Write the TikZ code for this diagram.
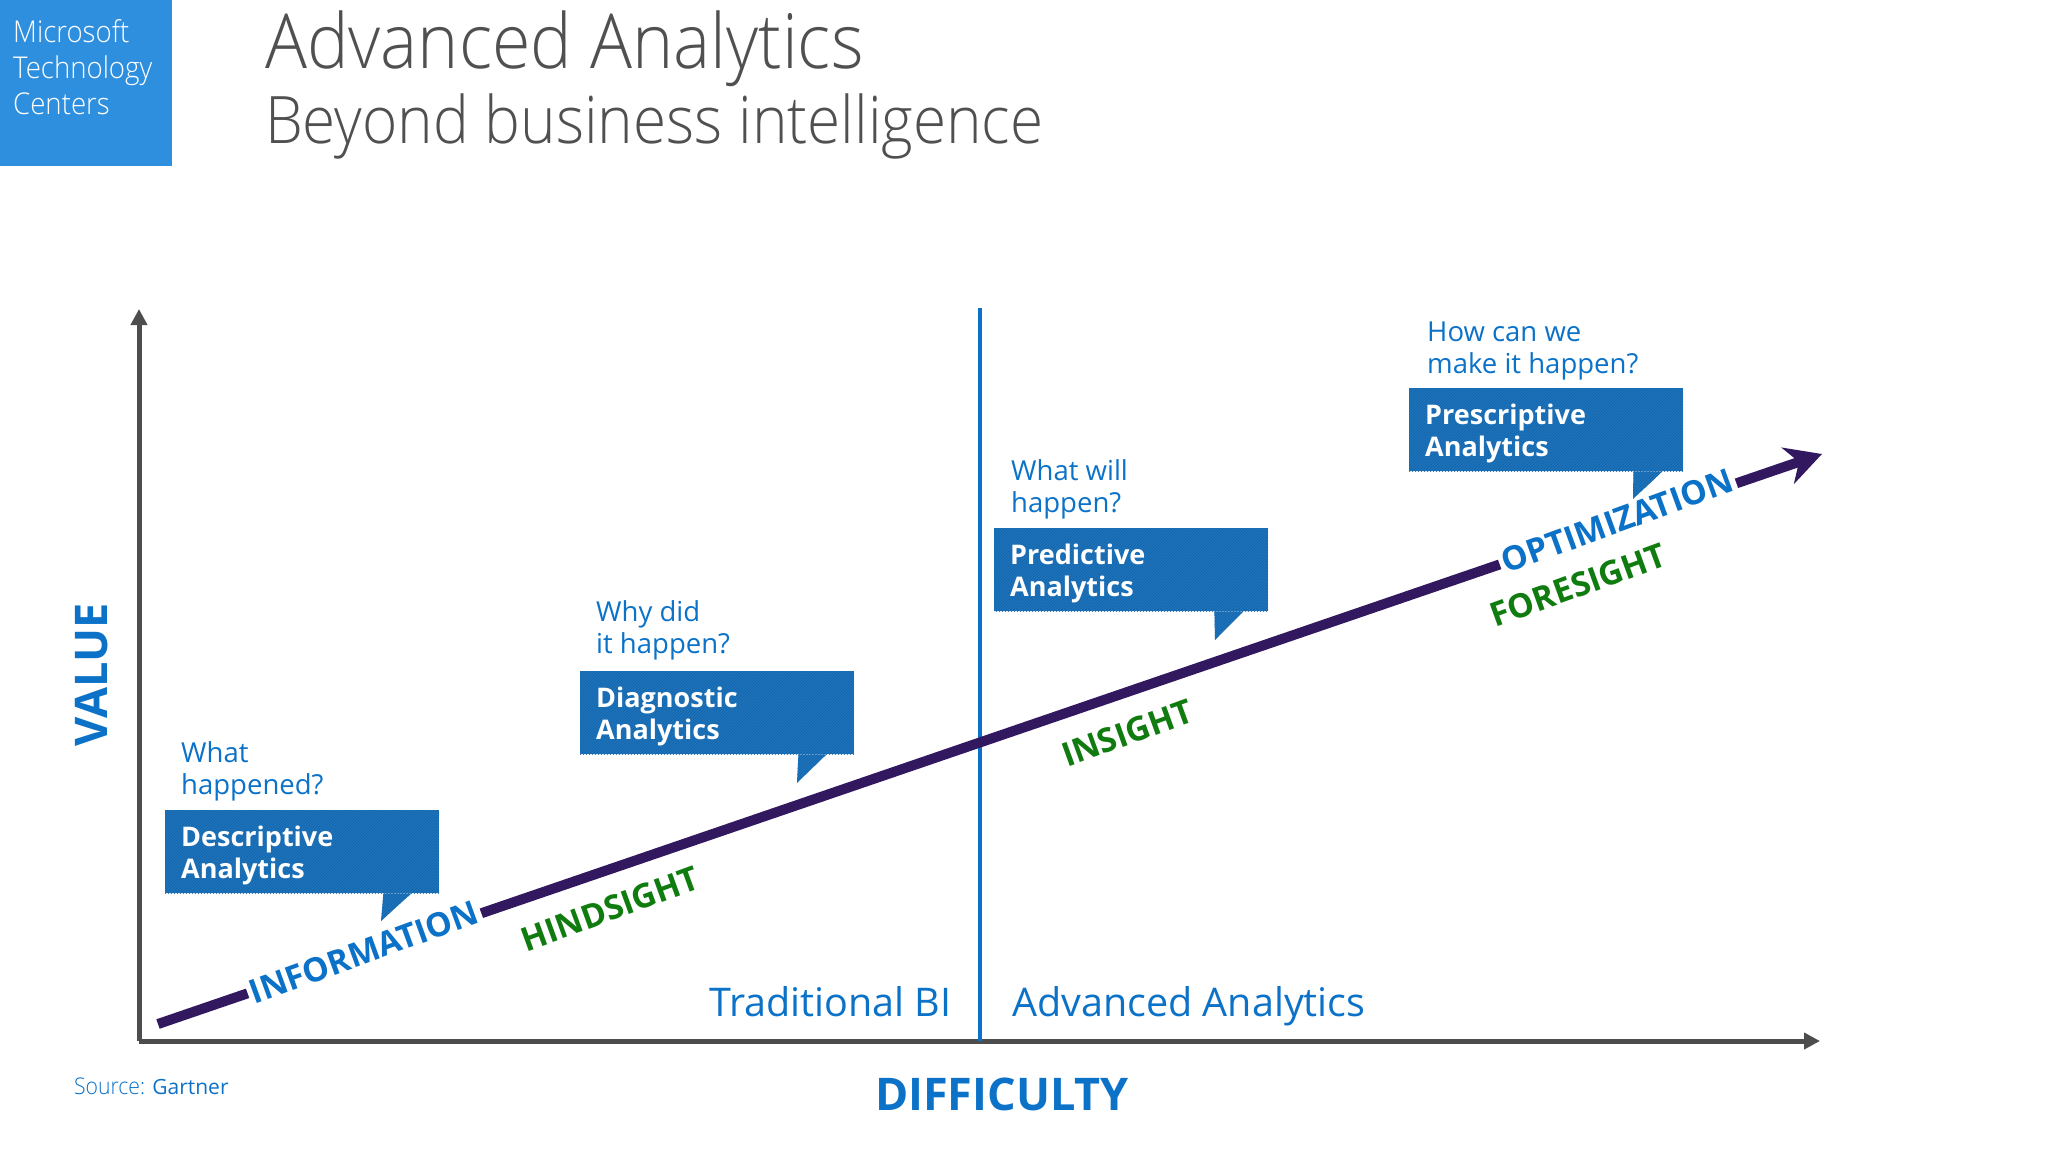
\documentclass[tikz,border=0pt]{standalone}
\usepackage{fontspec}
\setmainfont{Open Sans}
\newfontfamily\lightfont[FakeStretch=0.92]{Open Sans Light}
\usetikzlibrary{arrows.meta,patterns}
\definecolor{tileBlue}{HTML}{2F8FDF}
\definecolor{titleGray}{HTML}{505050}
\definecolor{axisGray}{HTML}{4D4D4D}
\definecolor{textBlue}{HTML}{0B72C8}
\definecolor{boxBlue}{HTML}{1B74C0}
\definecolor{hatchBlue}{HTML}{1A62A0}
\definecolor{arrowPurple}{HTML}{32185F}
\definecolor{wordGreen}{HTML}{107C10}
\tikzset{
  questionText/.style={text=textBlue, anchor=north west, inner sep=0, align=left,
    font=\fontsize{27.5}{32}\selectfont},
  calloutFill/.style={fill=boxBlue, postaction={pattern=north east lines, pattern color=hatchBlue}},
  calloutBox/.style={calloutFill, anchor=north west, minimum width=274pt, minimum height=83pt,
    text width=242pt, inner xsep=16pt, inner ysep=0, align=left, text=white,
    font=\fontsize{27}{32}\selectfont\bfseries},
  slopeWord/.style={rotate=20, fill=white, inner xsep=3pt, inner ysep=0pt,
    font=\fontsize{33.3}{33.3}\selectfont\bfseries},
  axisLine/.style={draw=axisGray, line width=5pt, -{Triangle[length=16pt,width=16pt]}},
  regionText/.style={text=textBlue, anchor=base west, inner sep=0,
    font=\fontsize{39.5}{40}\selectfont},
  axisTitle/.style={text=textBlue, inner sep=0, font=\fontsize{45}{45}\selectfont\bfseries}
}
\newcommand{\boxlift}{\rule{0pt}{28pt}}
\begin{document}
\begin{tikzpicture}[x=1pt, y=-1pt]
      \useasboundingbox (0, 0) rectangle (2048, 1152);
      % HEADER
      \fill[tileBlue] (0, 0) rectangle (172, 166);
      \draw (13, 19) node[anchor=north west, inner sep=0, align=left, text=white,
        font=\lightfont\fontsize{30}{36}\selectfont](tileText){Microsoft\\Technology\\Centers};
      \draw (265, 68) node[anchor=base west, inner sep=0, text=titleGray,
        font=\lightfont\fontsize{76}{76}\selectfont](titleTop){Advanced Analytics};
      \draw (265, 143) node[anchor=base west, inner sep=0, text=titleGray,
        font=\lightfont\fontsize{65.5}{66}\selectfont](titleBottom){Beyond business intelligence};
      % AXES
      \coordinate (origin) at (139, 1041);
      \coordinate (valueEnd) at (139, 309);
      \coordinate (difficultyEnd) at (1820, 1041);
      \coordinate (splitTop) at (980, 308);
      \coordinate (splitBottom) at (980, 1041);
      \draw[axisLine] (origin) -- (valueEnd);
      \draw[axisLine] (origin) -- (difficultyEnd);
      \draw[draw=textBlue, line width=4.5pt] (splitTop) -- (splitBottom);
      % TREND
      \coordinate (trendStart) at (158, 1024);
      \coordinate (trendEnd) at (1822, 454);
      \draw[draw=arrowPurple, line width=10pt, -{Stealth[length=36pt,width=38pt]}] (trendStart) -- (trendEnd);
      % WORDS ON THE TREND
      \draw (364, 952) node[slopeWord, text=textBlue](infoWord){INFORMATION};
      \draw (610, 909) node[slopeWord, text=wordGreen](hindWord){HINDSIGHT};
      \draw (1127, 733) node[slopeWord, text=wordGreen](insightWord){INSIGHT};
      \draw (1617, 521) node[slopeWord, text=textBlue](optWord){OPTIMIZATION};
      \draw (1578, 585) node[slopeWord, text=wordGreen](foreWord){FORESIGHT};
      % CALLOUTS
      \draw (165, 810) node[calloutBox](descBox){\boxlift Descriptive\\Analytics};
      \fill[calloutFill] ([xshift=-56pt]descBox.south east) -- (381, 921) -- ([xshift=-28pt]descBox.south east) -- cycle;
      \draw (580, 671) node[calloutBox](diagBox){\boxlift Diagnostic\\Analytics};
      \fill[calloutFill] ([xshift=-56pt]diagBox.south east) -- (797, 783) -- ([xshift=-28pt]diagBox.south east) -- cycle;
      \draw (994, 528) node[calloutBox](predBox){\boxlift Predictive\\Analytics};
      \fill[calloutFill] ([xshift=-54pt]predBox.south east) -- (1215, 640) -- ([xshift=-25pt]predBox.south east) -- cycle;
      \draw (1409, 388) node[calloutBox](prescBox){\boxlift Prescriptive\\Analytics};
      \fill[calloutFill] ([xshift=-50pt]prescBox.south east) -- (1633, 499) -- ([xshift=-21pt]prescBox.south east) -- cycle;
      % QUESTIONS
      \draw (181, 741) node[questionText](descAsk){What\\happened?};
      \draw (596, 600) node[questionText](diagAsk){Why did\\it happen?};
      \draw (1011, 459) node[questionText](predAsk){What will\\happen?};
      \draw (1427, 322) node[questionText](prescAsk){How can we\\make it happen?};
      % LABELS
      \draw (709, 1016) node[regionText](tradLabel){Traditional BI};
      \draw (1012, 1016) node[regionText](advLabel){Advanced Analytics};
      \draw (92, 675) node[axisTitle, rotate=90](valueLabel){VALUE};
      \draw (1002, 1094) node[axisTitle](difficultyLabel){DIFFICULTY};
      \draw (74, 1094) node[anchor=base west, inner sep=0, text=textBlue,
        font=\fontsize{21}{21}\selectfont](sourceLabel){{\lightfont\fontsize{23}{21}\selectfont Source:} Gartner};
    \end{tikzpicture}
\end{document}
